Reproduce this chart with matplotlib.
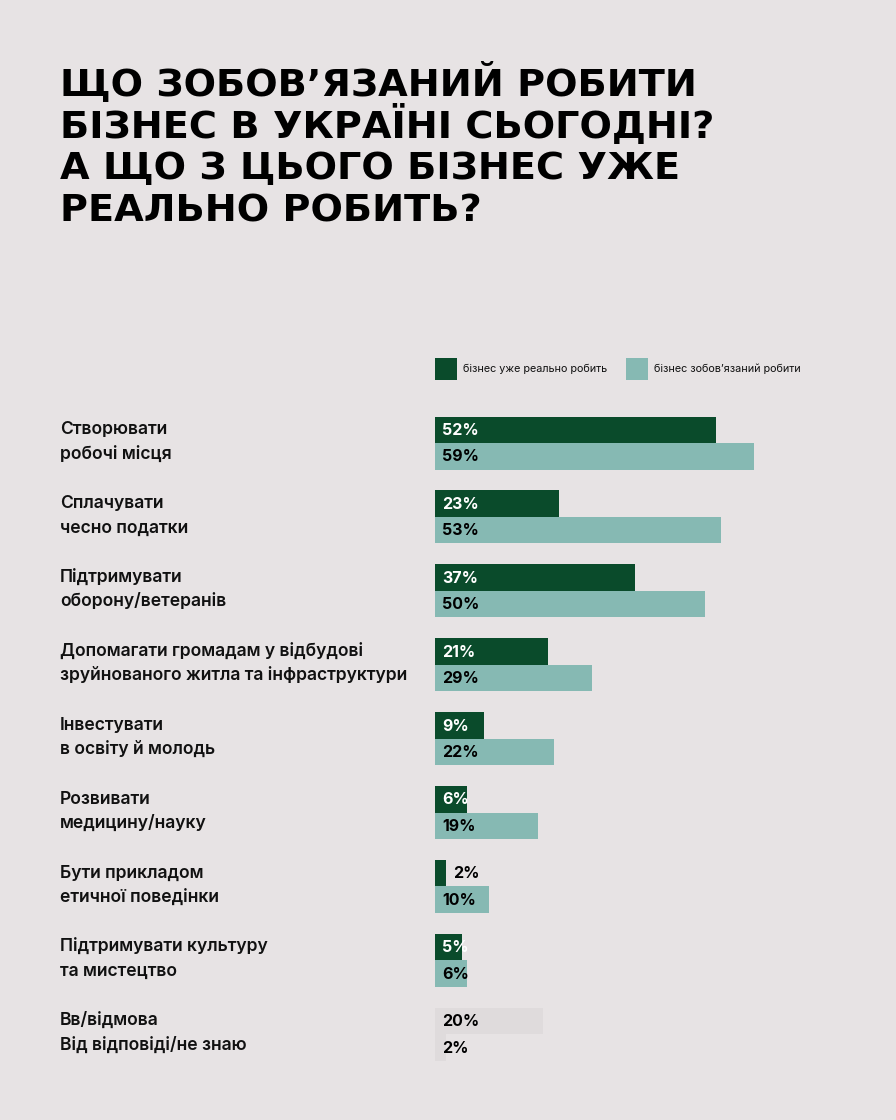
import matplotlib.pyplot as plt
from matplotlib import transforms

plt.rcParams['font.family'] = ['Inter', 'DejaVu Sans']

BG = '#e7e3e4'
DARK = '#0a4b2b'
LIGHT = '#86b9b3'
GREY = '#dfdbdc'

title_lines = ["ЩО ЗОБОВ’ЯЗАНИЙ РОБИТИ", "БІЗНЕС В УКРАЇНІ СЬОГОДНІ?",
               "А ЩО З ЦЬОГО БІЗНЕС УЖЕ", "РЕАЛЬНО РОБИТЬ?"]

labels = [
    ("Створювати", "робочі місця"),
    ("Сплачувати", "чесно податки"),
    ("Підтримувати", "оборону/ветеранів"),
    ("Допомагати громадам у відбудові", "зруйнованого житла та інфраструктури"),
    ("Інвестувати", "в освіту й молодь"),
    ("Розвивати", "медицину/науку"),
    ("Бути прикладом", "етичної поведінки"),
    ("Підтримувати культуру", "та мистецтво"),
    ("Вв/відмова", "Від відповіді/не знаю"),
]
real = [52, 23, 37, 21, 9, 6, 2, 5, 20]
obliged = [59, 53, 50, 29, 22, 19, 10, 6, 2]

legend_names = ["бізнес уже реально робить", "бізнес зобов’язаний робити"]

fig = plt.figure(figsize=(8.96, 11.2), dpi=100, facecolor=BG)

W, H = 896, 1120
px_per = 5.4
row_h = 73.9
x0 = 435
y0 = 443
top, bot = 400, 1080
ax = fig.add_axes([x0 / W, 1 - bot / H, 1 - x0 / W, (bot - top) / H])
ax.set_facecolor(BG)
ax.set_xlim(0, (W - x0) / px_per)
ax.set_ylim((bot - y0) / row_h, (top - y0) / row_h)
ax.axis('off')

bh = 26.5 / row_h
n = len(labels)
for i in range(n):
    last = i == n - 1
    c1 = GREY if last else DARK
    c2 = GREY if last else LIGHT
    ax.barh(i - bh / 2, real[i], height=bh, color=c1, linewidth=0)
    ax.barh(i + bh / 2, obliged[i], height=bh, color=c2, linewidth=0)

    # value labels (tiny dark bar gets its label outside, in black)
    if last:
        col1 = 'black'
        xx = 1.3
    elif real[i] < 4:
        col1 = 'black'
        xx = real[i] + 1.3
    else:
        col1 = 'white'
        xx = 1.3
    ax.text(xx, i - bh / 2 + 0.01, f"{real[i]}%", color=col1, fontsize=11.5,
            fontweight='bold', va='center', ha='left')
    ax.text(1.3, i + bh / 2 + 0.01, f"{obliged[i]}%", color='black', fontsize=11.5,
            fontweight='bold', va='center', ha='left')

# category labels on the left
tr = transforms.blended_transform_factory(fig.transFigure, ax.transData)
for i, (l1, l2) in enumerate(labels):
    ax.text(60 / W, i - 9 / row_h, l1, transform=tr, fontsize=12.6, fontweight='semibold',
            va='baseline', ha='left', color='#111111')
    ax.text(60 / W, i + 15.5 / row_h, l2, transform=tr, fontsize=12.6, fontweight='semibold',
            va='baseline', ha='left', color='#111111')

# legend
for (lx, tx), name, col in zip([(435, 463), (626, 654)], legend_names, [DARK, LIGHT]):
    fig.patches.append(plt.Rectangle((lx / W, 1 - 380 / H), 22 / W, 22 / H,
                                     transform=fig.transFigure, color=col, linewidth=0))
    fig.text(tx / W, 1 - 369 / H, name, fontsize=7.8, va='center', ha='left', color='#111111')

# title, one line at a time so the spacing stays even
for k, line in enumerate(title_lines):
    fig.text(60 / W, 1 - (96 + 41.7 * k) / H, line, fontsize=27.5, fontweight='heavy',
             family='DejaVu Sans', va='baseline', ha='left', color='black')

fig.savefig('out.png', dpi=100, facecolor=BG)
